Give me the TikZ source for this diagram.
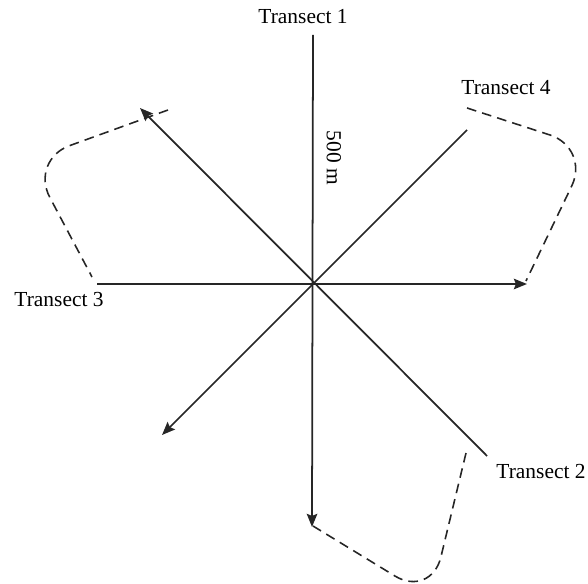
\documentclass[tikz,border=0pt]{standalone}
\usepackage{fontspec}
\setmainfont{Liberation Serif}
\usetikzlibrary{arrows.meta}

\begin{document}
\begin{tikzpicture}[
  x=0.02cm, y=-0.02cm,
  transect/.style={line width=1pt, draw=black!85},
  arrow/.style={transect, -{Stealth[length=7.5pt, width=6pt, inset=1.2pt]}},
  walk/.style={dash pattern=on 5.5pt off 3.5pt, line width=0.9pt, draw=black!85, rounded corners=24pt},
  label/.style={font=\fontsize{12.2}{14}\selectfont, inner sep=0pt}
]
\useasboundingbox (0,0) rectangle (588,584);

% transect ends
\coordinate (t1s) at (313,35);
\coordinate (t1e) at (312,527);
\coordinate (t2s) at (487,456);
\coordinate (t2e) at (140,108);
\coordinate (t3s) at (97,284);
\coordinate (t3e) at (527,284);
\coordinate (t4s) at (467,130);
\coordinate (t4e) at (162,435);

\draw[arrow] (t1s) -- (t1e);
\draw[arrow] (t2s) -- (t2e);
\draw[arrow] (t3s) -- (t3e);
\draw[arrow] (t4s) -- (t4e);

% walks between transects
\coordinate (wa1) at (168,110);
\coordinate (wa2) at (30,160);
\coordinate (wa3) at (92,277);
\coordinate (wb1) at (467,108);
\coordinate (wb2) at (590,148);
\coordinate (wb3) at (526,281);
\coordinate (wc1) at (466,453);
\coordinate (wc2) at (431,598);
\coordinate (wc3) at (313,526);

\draw[walk] (wa1) -- (wa2) -- (wa3);
\draw[walk] (wb1) -- (wb2) -- (wb3);
\draw[walk] (wc1) -- (wc2) -- (wc3);

\node[label] (lab1) at (303,17) {Transect 1};
\node[label] (lab2) at (541,472) {Transect 2};
\node[label] (lab3) at (59,300) {Transect 3};
\node[label] (lab4) at (506,88) {Transect 4};
\node[label, rotate=-90] (dist) at (334,158) {500 m};
\end{tikzpicture}
\end{document}
